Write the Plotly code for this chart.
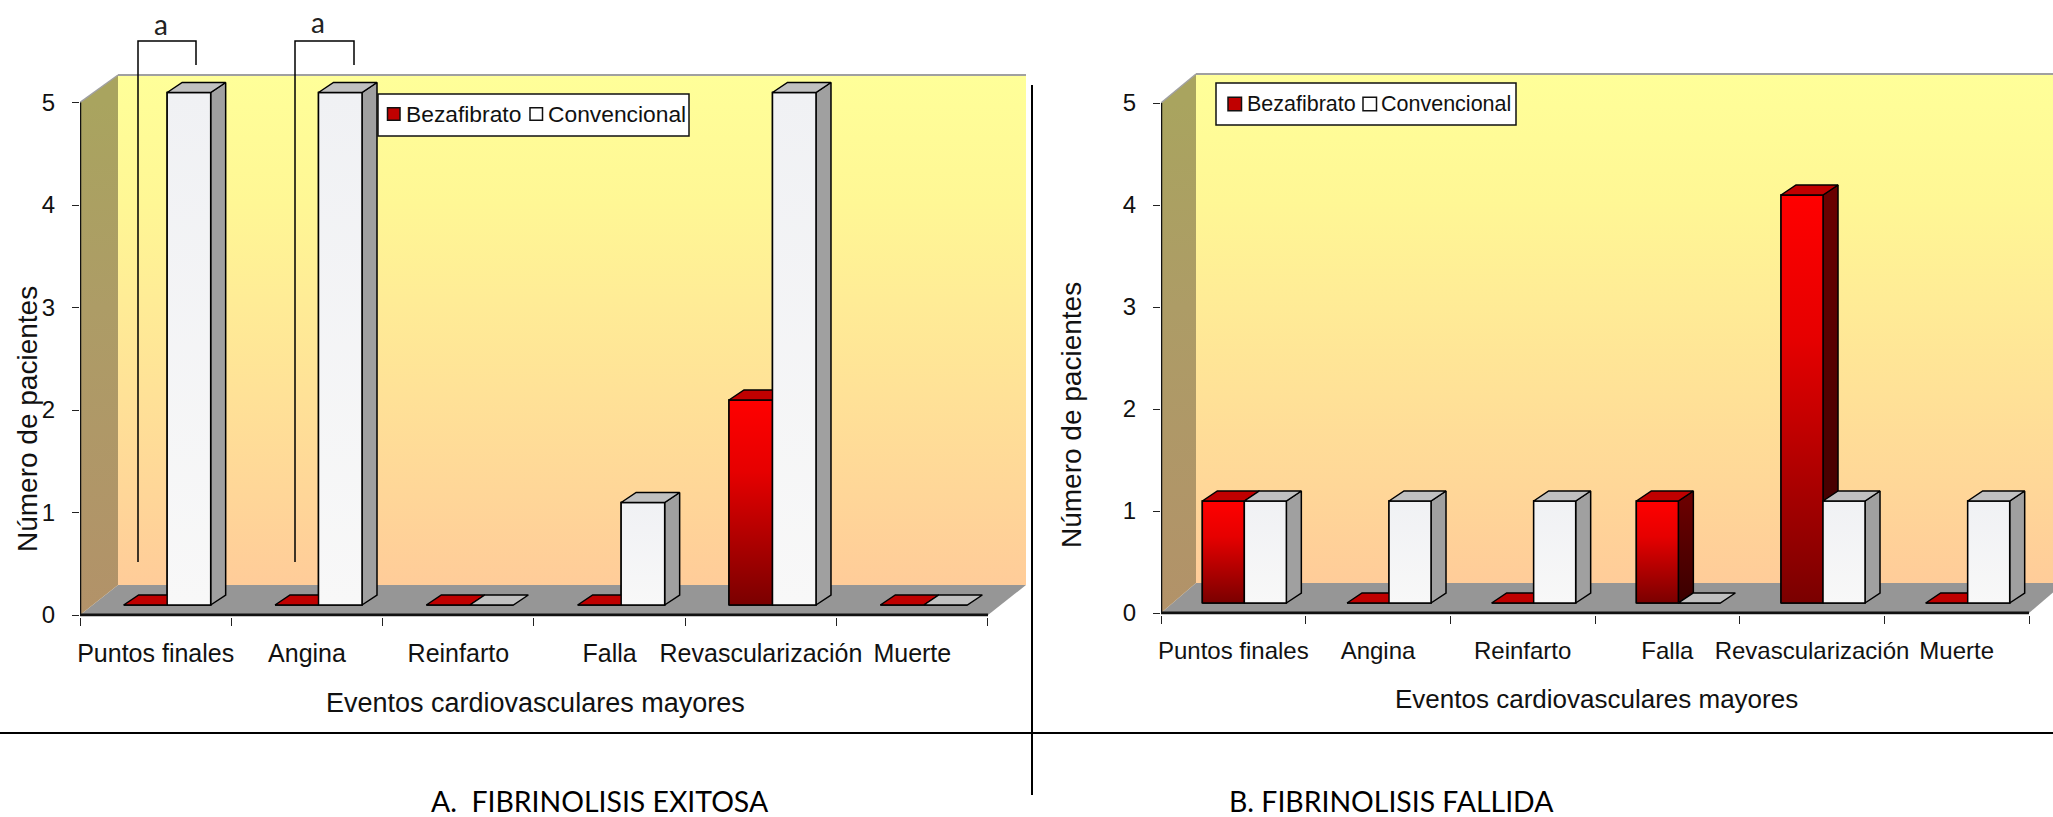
import base64
import plotly.graph_objects as go

W, H = 2053, 817

# ---- data -------------------------------------------------------------
categorias = ["Puntos finales", "Angina", "Reinfarto", "Falla", "Revascularización", "Muerte"]
bezafibrato_a = [0, 0, 0, 0, 2, 0]
convencional_a = [5, 5, 0, 1, 5, 0]
bezafibrato_b = [1, 0, 0, 1, 4, 0]
convencional_b = [1, 1, 1, 0, 1, 1]
ticks_y = [0, 1, 2, 3, 4, 5]
nombre_series = ["Bezafibrato", "Convencional"]
titulo_y = "Número de pacientes"
titulo_x = "Eventos cardiovasculares mayores"

FONT = "Liberation Sans"


def wall_uri():
    svg = ('<svg xmlns="http://www.w3.org/2000/svg" width="100" height="100" preserveAspectRatio="none">'
           '<defs><linearGradient id="g" x1="0" y1="0" x2="0" y2="1">'
           '<stop offset="0" stop-color="#FFFF99"/><stop offset="0.25" stop-color="#FFF795"/>'
           '<stop offset="1" stop-color="#FFCC99"/></linearGradient></defs>'
           '<rect width="100" height="100" fill="url(#g)"/></svg>')
    return "data:image/svg+xml;base64," + base64.b64encode(svg.encode()).decode()


fig = go.Figure()
shapes, images, annots = [], [], []


def panel(xa, ya, cfg, red, white):
    x0px, x_end, y0px, cat_px = cfg["x0"], cfg["xend"], cfg["y0"], cfg["cat"]
    unit = cfg["unit"]
    px2x = lambda p: p / cat_px
    px2y = lambda p: p / unit
    X = lambda p: -0.5 + (p - x0px) / cat_px
    Y = lambda p: (y0px - p) / unit
    bottom = y0px + 1.5
    top = cfg["top"] - 3
    xaxis = dict(domain=[x0px / W, x_end / W], range=[-0.5, X(x_end)], showgrid=False, zeroline=False,
                 showline=False, ticks="", tickmode="array", tickvals=list(range(len(categorias))),
                 ticktext=categorias, ticklabelstandoff=cfg["stand"],
                 tickfont=dict(family=FONT, size=cfg["tick"], color="#111"),
                 minor=dict(ticks="outside", ticklen=8, tickwidth=1, tickcolor="#222",
                            tickvals=[i - 0.5 for i in range(len(categorias) + 1)]),
                 anchor=ya, fixedrange=True)
    yaxis = dict(domain=[1 - bottom / H, 1 - top / H], range=[Y(bottom), Y(top)], showgrid=False, zeroline=False,
                 showline=False, ticks="outside", ticklen=7, tickwidth=1, tickcolor="#222", tickmode="array",
                 tickvals=ticks_y, ticktext=[str(t) for t in ticks_y], ticklabelstandoff=12,
                 tickfont=dict(family=FONT, size=24, color="#111"), anchor=xa, fixedrange=True)
    xn, yn = xa.replace("x", "xaxis"), ya.replace("y", "yaxis")
    fig.update_layout({xn: xaxis, yn: yaxis})

    dxw, dyw, back_right = cfg["dxw"], cfg["dyw"], cfg["x6"] + cfg["dxw"]
    floor_x = [X(x0px), X(x0px + dxw), X(back_right), X(cfg["x6"])]
    floor_y = [0, px2y(dyw), px2y(dyw), 0]
    path = "M" + " L".join(f"{a},{b}" for a, b in zip(floor_x, floor_y)) + " Z"
    shapes.append(dict(type="path", path=path, xref=xa, yref=ya, layer="below",
                       fillcolor="#969696", line=dict(width=0)))
    wall_top = Y(cfg["top"])
    images.append(dict(source=wall_uri(), xref=xa, yref=ya, x=X(x0px + dxw), y=wall_top,
                       sizex=(back_right - x0px - dxw) / cat_px, sizey=wall_top - px2y(dyw),
                       sizing="stretch", layer="below", xanchor="left", yanchor="top"))
    fig.add_trace(go.Scatter(
        x=[X(x0px), X(x0px + dxw), X(x0px + dxw), X(x0px), X(x0px)],
        y=[5, wall_top, px2y(dyw), 0, 5], mode="none", fill="toself", xaxis=xa, yaxis=ya,
        fillgradient=dict(type="vertical", colorscale=[[0, "#B29269"], [0.6, "#AD9C66"], [1, "#A9A45F"]],
                          start=0, stop=5),
        showlegend=False, hoverinfo="skip"))
    shapes.append(dict(type="line", xref=xa, yref=ya, x0=X(x0px + dxw), x1=X(back_right), y0=wall_top, y1=wall_top,
                       line=dict(color="#A0A0A0", width=2)))
    shapes.append(dict(type="line", xref=xa, yref=ya, x0=X(x0px), x1=X(x0px + dxw), y0=5, y1=wall_top,
                       line=dict(color="#A0A0A0", width=1.5)))
    shapes.append(dict(type="line", xref=xa, yref=ya, x0=X(x0px), x1=X(x0px), y0=0, y1=5,
                       line=dict(color="#111", width=2.5)))
    shapes.append(dict(type="line", xref=xa, yref=ya, x0=-0.5, x1=X(cfg["x6"]), y0=0, y1=0,
                       line=dict(color="#111", width=3)))

    w = px2x(cfg["bw"])
    dx, dy = px2x(15), px2y(10)
    base = px2y(10)
    off = px2x(cfg["off"])
    xs = [i + off for i in range(len(categorias))]

    for name, vals, fo, col in ((nombre_series[0], red, -w, "#C00000"), (nombre_series[1], white, 0, "#F5F5F5")):
        fig.add_trace(go.Bar(x=xs, y=vals, base=base, width=w, offset=fo, name=name, showlegend=False,
                             marker=dict(color=col, line=dict(color="#000", width=1.5)),
                             xaxis=xa, yaxis=ya, hoverinfo="skip"))

    def poly(xx, yy, fill=None, grad=None):
        kw = dict(fillgradient=grad) if grad else dict(fillcolor=fill)
        fig.add_trace(go.Scatter(x=xx + xx[:1], y=yy + yy[:1], mode="lines", fill="toself",
                                 line=dict(color="#000", width=1.5), xaxis=xa, yaxis=ya,
                                 showlegend=False, hoverinfo="skip", **kw))

    for i, xc in enumerate(xs):
        for v, l, is_red in ((red[i], xc - w, True), (white[i], xc, False)):
            r = l + w
            t = base + v
            if v > 0:
                side_grad = (dict(type="vertical", colorscale=[[0, "#3A0000"], [1, "#6A0000"]], start=base, stop=t)
                             if is_red else None)
                poly([r, r + dx, r + dx, r], [base, base + dy, t + dy, t],
                     fill=None if is_red else "#A0A0A0", grad=side_grad)
                front = (dict(type="vertical", colorscale=[[0, "#7A0000"], [0.65, "#E60000"], [1, "#FF0000"]],
                              start=base, stop=t)
                         if is_red else
                         dict(type="vertical", colorscale=[[0, "#F8F8F8"], [1, "#F0F1F4"]], start=base, stop=t))
                poly([l, r, r, l], [base, base, t, t], grad=front)
            poly([l, r, r + dx, l + dx], [t, t, t + dy, t + dy], fill="#C00000" if is_red else "#C0C0C0")


cfg_a = dict(x0=80, xend=1034, y0=615, x6=988, cat=151.33, unit=102.5, top=75, dxw=38, dyw=30, bw=43.5, off=11.5,
             stand=19, tick=25)
cfg_b = dict(x0=1161, xend=2053, y0=613, x6=2029, cat=144.67, unit=102, top=74, dxw=35, dyw=30, bw=42, off=11,
             stand=19, tick=24)

panel("x", "y", cfg_a, bezafibrato_a, convencional_a)
panel("x2", "y2", cfg_b, bezafibrato_b, convencional_b)


def txt(s, xp, yp, size, family=FONT, angle=0, color="#111", anchor="center"):
    annots.append(dict(text=s, x=xp / W, y=1 - yp / H, xref="paper", yref="paper", showarrow=False,
                       xanchor=anchor, yanchor="middle", textangle=angle, borderpad=0,
                       font=dict(family=family, size=size, color=color)))


def pline(path_pts, width=1.5):
    path = "M" + " L".join(f"{a / W},{1 - b / H}" for a, b in path_pts)
    shapes.append(dict(type="path", path=path, xref="paper", yref="paper", layer="above",
                       line=dict(color="#000", width=width)))


def legend_box(box, sw1, t1, sw2, t2, yc, swh, size):
    rect = lambda x0, x1, y0, y1, fill, lw: shapes.append(dict(
        type="rect", xref="paper", yref="paper", x0=x0 / W, x1=x1 / W, y0=1 - y1 / H, y1=1 - y0 / H,
        fillcolor=fill, line=dict(color="#111", width=lw), layer="above"))
    rect(box[0], box[1], box[2], box[3], "#FFFFFF", 1.5)
    rect(sw1, sw1 + swh, yc - swh / 2, yc + swh / 2, "#C00000", 1.5)
    rect(sw2, sw2 + swh, yc - swh / 2, yc + swh / 2, "#FFFFFF", 1.5)
    txt(nombre_series[0], t1, yc, size, anchor="left")
    txt(nombre_series[1], t2, yc, size, anchor="left")


legend_box((378, 689, 94, 136), 387.5, 405, 530, 547, 114, 12.5, 22.8)
legend_box((1216, 1516, 83, 125), 1228, 1246, 1363, 1380, 104, 13.5, 21.5)

txt(titulo_y, 27, 419, 28, angle=-90)
txt(titulo_y, 1072, 415, 28, angle=-90)
txt(titulo_x, 535, 703, 27)
txt(titulo_x, 1596, 699, 26)
txt("A.  FIBRINOLISIS EXITOSA", 600, 801, 28.4, family="Lato", color="#000")
txt("B. FIBRINOLISIS FALLIDA", 1391, 801, 28.4, family="Lato", color="#000")
txt("a", 161, 24, 28, family="Lato", color="#222")
txt("a", 318, 22, 28, family="Lato", color="#222")

pline([(138, 562), (138, 41), (196, 41), (196, 65)])
pline([(295, 562), (295, 41), (354, 41), (354, 65)])
pline([(0, 733), (W, 733)], width=2)
pline([(1032, 85), (1032, 795)], width=2)

fig.update_layout(width=W, height=H, margin=dict(l=0, r=0, t=0, b=0, pad=0, autoexpand=False),
                  paper_bgcolor="#FFFFFF", plot_bgcolor="rgba(0,0,0,0)", barmode="overlay",
                  shapes=shapes, images=images, annotations=annots, showlegend=False)

fig.write_html("out.html", config=dict(displayModeBar=False),
               post_script="document.body.style.margin='0';document.body.style.overflow='hidden';")
